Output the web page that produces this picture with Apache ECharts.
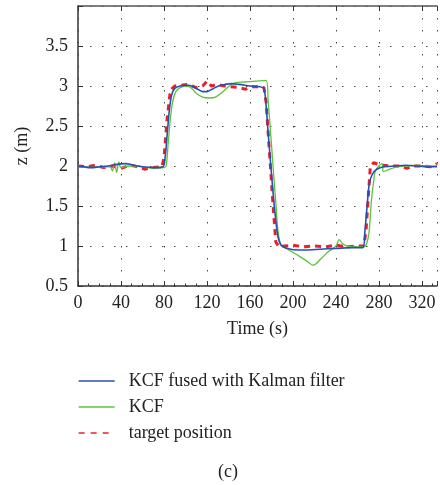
<!DOCTYPE html>
<html>
<head>
<meta charset="utf-8">
<script src="https://cdn.jsdelivr.net/npm/echarts@6/dist/echarts.min.js"></script>
<style>html,body{margin:0;padding:0;background:#fff}#c{width:440px;height:485px}</style>
</head>
<body>
<div id="c"></div>
<script>
var seriesNames = ['KCF fused with Kalman filter', 'KCF', 'target position'];
var xTicks = [0, 40, 80, 120, 160, 200, 240, 280, 320];
var yTicks = [0.5, 1, 1.5, 2, 2.5, 3, 3.5];

var tBlue = [0,6,12,20,28,36,44,52,60,70,79,81,83,85,87,90,95,103,110,116,120,126,133,143,150,160,172,174,177,180,183,186,189,195,205,215,225,240,255,265,267,269,271,274,278,285,295,305,315,325,334];
var zBlue = [2.0,1.99,1.98,1.99,2.0,2.02,2.03,2.01,1.99,1.98,1.99,2.1,2.4,2.7,2.88,2.97,3.0,3.01,2.97,2.93,2.93,2.97,3.01,3.03,3.02,3.0,2.98,2.9,2.4,1.9,1.45,1.12,1.01,0.97,0.95,0.95,0.96,0.97,0.98,0.98,1.2,1.5,1.78,1.9,1.96,1.99,2.0,2.01,2.0,1.99,1.99];

var tGreen = [0,10,20,30,32,34,36,38,40,48,56,64,72,80,82,84,86,88,91,95,100,105,110,116,122,128,134,140,146,155,165,175,177,179,182,184,186,189,195,205,212,219,226,233,240,243,246,250,258,266,269,271,273,275,277,283,284,290,297,305,315,325,334];
var zGreen = [2.0,1.98,1.99,1.99,1.94,2.04,1.92,2.05,1.98,2.0,2.0,1.98,1.97,1.98,2.0,2.3,2.6,2.8,2.93,2.98,3.0,2.98,2.91,2.86,2.85,2.86,2.92,2.99,3.04,3.05,3.06,3.07,2.8,2.45,1.9,1.55,1.2,1.01,0.96,0.88,0.82,0.76,0.84,0.93,1.0,1.08,1.03,1.0,0.99,0.99,1.05,1.2,1.57,1.8,1.95,2.03,1.93,1.96,1.99,2.0,2.01,2.0,2.0];

var tTarget = [0,8,16,24,32,40,48,56,62,70,78,80,83,86,90,96,103,110,116,120,124,130,136,142,150,156,162,168,173,175,178,181,184,187,192,200,210,220,230,240,250,260,266,268,270,272,275,282,290,300,306,312,320,328,334];
var zTarget = [2.0,1.99,2.01,1.98,2.0,1.97,2.01,1.99,1.96,1.98,1.99,2.1,2.6,2.95,3.0,3.01,3.02,2.98,3.0,3.06,3.0,3.02,3.0,2.99,2.98,2.96,2.99,2.99,2.98,2.8,2.2,1.6,1.05,0.99,1.0,1.01,0.99,1.0,0.99,1.01,0.99,1.0,1.0,1.2,1.6,2.0,2.04,2.01,2.0,2.0,1.97,2.0,2.0,1.99,2.03];

function pairs(t, z) { return t.map(function (v, i) { return [v, z[i]]; }); }

var FONT = 'Liberation Serif';
var gridLine = { show: true, lineStyle: { color: '#444', type: [1.5, 10.5], width: 1 } };
var chart = echarts.init(document.getElementById('c'));
chart.setOption({
  animation: false,
  backgroundColor: '#fff',
  textStyle: { fontFamily: FONT },
  grid: { left: 78, top: 6, width: 362, height: 280, containLabel: false },
  legend: {
    show: true,
    orient: 'vertical', left: 73, top: 367, itemWidth: 36, itemHeight: 12, itemGap: 8,
    textStyle: { fontFamily: FONT, fontSize: 18, color: '#222', padding: [0, 0, 0, 9] },
    itemStyle: { opacity: 0 },
    data: [
      { name: seriesNames[0], lineStyle: { width: 1.3 }, itemStyle: { opacity: 0 } },
      { name: seriesNames[1], lineStyle: { width: 1.3 }, itemStyle: { opacity: 0 } },
      { name: seriesNames[2], lineStyle: { width: 1.3, type: [6, 6] }, itemStyle: { opacity: 0 } }
    ]
  },
  graphic: [{ type: 'text', left: 218, top: 463, style: { text: '(c)', font: '18px "Liberation Serif"', fill: '#222' } }],
  xAxis: [{
    type: 'value', min: 0, max: 334, interval: 40,
    name: 'Time (s)', nameLocation: 'middle', nameGap: 34,
    nameTextStyle: { fontFamily: FONT, fontSize: 18, color: '#222' },
    axisLine: { show: true, onZero: false, lineStyle: { color: '#333', width: 1.5 } },
    axisTick: { show: true, inside: true, length: 5, lineStyle: { color: '#333' } },
    minorTick: { show: true, splitNumber: 4, length: 2.5, lineStyle: { color: '#333' } },
    axisLabel: { fontFamily: FONT, fontSize: 18, color: '#222', margin: 8,
      formatter: function (v) { return xTicks.indexOf(v) >= 0 ? String(v) : ''; } },
    splitLine: gridLine
  }, {
    type: 'value', position: 'top', min: 0, max: 334, interval: 40,
    axisLine: { show: true, onZero: false, lineStyle: { color: '#555', width: 1.5 } },
    axisTick: { show: true, inside: true, length: 5, lineStyle: { color: '#333' } },
    axisLabel: { show: false }, splitLine: { show: false }
  }],
  yAxis: [{
    type: 'value', min: 0.5, max: 4, interval: 0.5,
    name: 'z (m)', nameLocation: 'middle', nameGap: 47, nameRotate: 90,
    nameTextStyle: { fontFamily: FONT, fontSize: 18, color: '#222' },
    axisLine: { show: true, onZero: false, lineStyle: { color: '#333', width: 1.5 } },
    axisTick: { show: true, inside: true, length: 5, lineStyle: { color: '#333' } },
    axisLabel: { fontFamily: FONT, fontSize: 18, color: '#222', margin: 10,
      formatter: function (v) { return yTicks.indexOf(v) >= 0 ? String(v) : ''; } },
    splitLine: gridLine
  }],
  series: [
    { name: seriesNames[0], type: 'line', data: pairs(tBlue, zBlue), showSymbol: false, symbol: 'none', smooth: 0.3, z: 3,
      lineStyle: { color: '#2b4eb3', width: 1.6 }, itemStyle: { color: '#2b4eb3' } },
    { name: seriesNames[1], type: 'line', data: pairs(tGreen, zGreen), showSymbol: false, symbol: 'none', smooth: 0.3, z: 2,
      lineStyle: { color: '#5cc23a', width: 1.3 }, itemStyle: { color: '#5cc23a' } },
    { name: seriesNames[2], type: 'line', data: pairs(tTarget, zTarget), showSymbol: false, symbol: 'none', z: 1,
      lineStyle: { color: '#e8202a', width: 3, type: [6, 5] }, itemStyle: { color: '#e8202a' } }
  ]
});
</script>
</body>
</html>
